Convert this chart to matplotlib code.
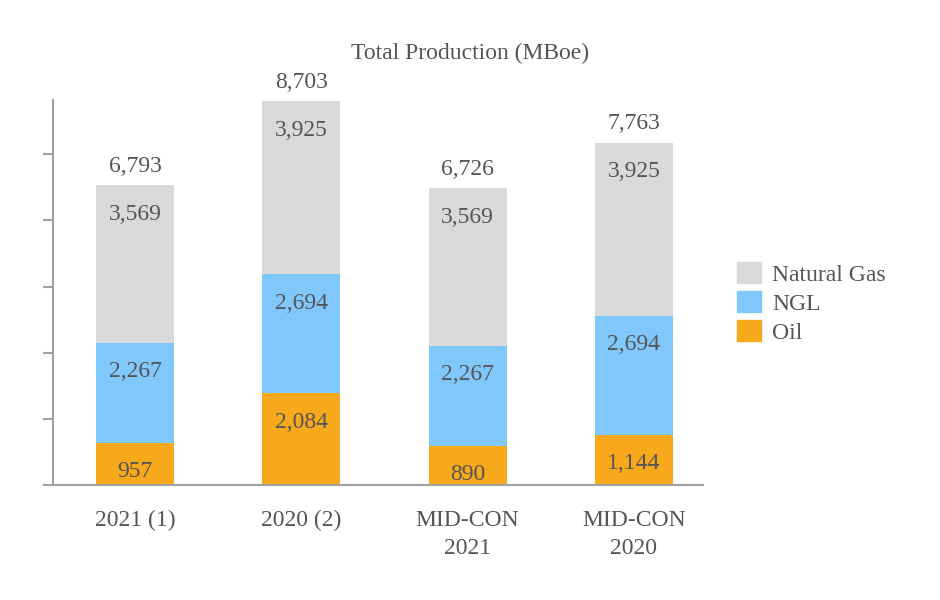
import matplotlib
matplotlib.use("Agg")
import matplotlib.pyplot as plt
import numpy as np
from matplotlib.patches import Patch

# data
categories = ["2021 (1)", "2020 (2)", "MID-CON\n2021", "MID-CON\n2020"]
oil = [957, 2084, 890, 1144]
ngl = [2267, 2694, 2267, 2694]
gas = [3569, 3925, 3569, 3925]
totals = [6793, 8703, 6726, 7763]

C_GAS = "#d9d9d9"
C_NGL = "#80c8fc"
C_OIL = "#f7a81b"
TXT = "#555555"
AXC = "#a0a0a0"

plt.rcParams["font.family"] = ["Liberation Serif", "DejaVu Serif"]

fig = plt.figure(figsize=(9.4, 6), dpi=100)
ax = fig.add_axes([53 / 940, 1 - 485 / 600, 650 / 940, 385 / 600])

x = np.arange(len(categories))
w = 0.47
oil = np.array(oil)
ngl = np.array(ngl)
gas = np.array(gas)

ax.bar(x, oil, w, color=C_OIL)
ax.bar(x, ngl, w, bottom=oil, color=C_NGL)
ax.bar(x, gas, w, bottom=oil + ngl, color=C_GAS)

ax.set_xlim(-0.494, 3.416)
ax.set_ylim(0, 8730)

FS = 17

def seg_label(xi, top, val):
    ax.annotate(f"{val:,}", (xi, top), xytext=(0, -29), textcoords="offset pixels",
                ha="center", va="center", fontsize=FS, color=TXT)

for i in range(len(x)):
    seg_label(x[i], oil[i], oil[i])
    seg_label(x[i], oil[i] + ngl[i], ngl[i])
    seg_label(x[i], oil[i] + ngl[i] + gas[i], gas[i])
    ax.annotate(f"{totals[i]:,}", (x[i], totals[i]), xytext=(0, 19), textcoords="offset pixels",
                ha="center", va="center", fontsize=FS, color=TXT)

for s in ["top", "right"]:
    ax.spines[s].set_visible(False)
for s in ["left", "bottom"]:
    ax.spines[s].set_color(AXC)
    ax.spines[s].set_linewidth(1.5)

ax.set_yticks([0, 1500, 3000, 4500, 6000, 7500])
ax.set_yticklabels([])
ax.tick_params(axis="y", length=7, width=1.5, color=AXC)
ax.set_xticks(x)
ax.set_xticklabels(categories, fontsize=FS, color=TXT, linespacing=1.45)
ax.tick_params(axis="x", length=0, pad=18)

fig.text(0.5, 1 - 53 / 600, "Total Production (MBoe)", ha="center", va="center",
         fontsize=FS, color=TXT)

handles = [Patch(color=C_GAS), Patch(color=C_NGL), Patch(color=C_OIL)]
fig.legend(handles, ["Natural Gas", "NGL", "Oil"], loc="center left",
           bbox_to_anchor=(737 / 940, 1 - 303 / 600), frameon=False, fontsize=FS,
           labelcolor=TXT, handlelength=1.0, handleheight=1.0, handletextpad=0.5,
           labelspacing=0.22, borderaxespad=0, borderpad=0)

fig.savefig("out.png", dpi=100)
